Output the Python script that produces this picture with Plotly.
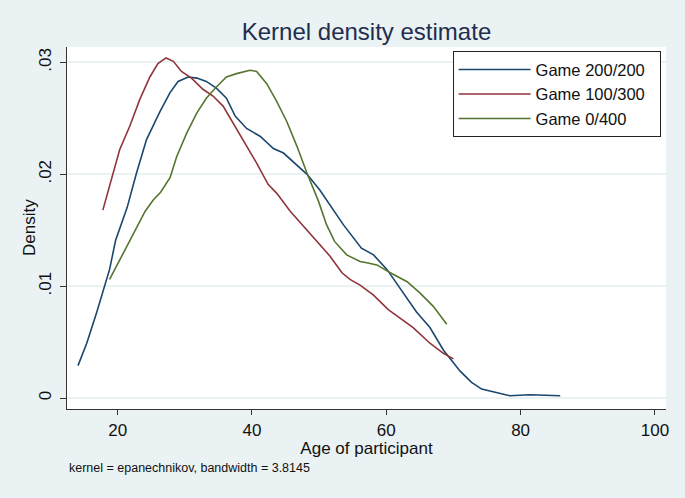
import plotly.graph_objects as go

# Game 200/200
age_a = [14.1, 15.4, 16.9, 18.8, 19.7, 21.4, 22.8, 24.3, 26.3, 27.8, 29.0, 30.5, 31.8, 33.2, 34.7,
         36.2, 37.5, 39.2, 41.2, 43.2, 44.7, 46.2, 48.2, 50.1, 51.6, 53.6, 56.3, 58.1, 60.1, 62.1,
         64.5, 66.5, 68.5, 71.0, 72.7, 74.2, 78.4, 81.4, 85.9]
dens_a = [0.0029, 0.0049, 0.0077, 0.0115, 0.0141, 0.0170, 0.0201, 0.0231, 0.0256, 0.0273, 0.0283,
          0.0287, 0.0286, 0.0283, 0.0277, 0.0268, 0.0252, 0.0241, 0.0234, 0.0223, 0.0219, 0.0211,
          0.0200, 0.0186, 0.0173, 0.0155, 0.0134, 0.0128, 0.0115, 0.0098, 0.0077, 0.0063, 0.0043,
          0.0024, 0.0014, 0.0008, 0.0002, 0.0003, 0.0002]

# Game 100/300
age_b = [17.8, 19.3, 20.3, 21.8, 23.3, 24.8, 26.0, 27.2, 28.3, 29.5, 31.0, 32.7, 34.2, 35.7, 37.2,
         38.7, 40.7, 42.4, 43.7, 45.7, 47.6, 49.6, 51.6, 53.4, 54.6, 56.1, 58.1, 60.3, 62.1, 64.0,
         66.5, 68.5, 70.0]
dens_b = [0.0168, 0.0201, 0.0222, 0.0243, 0.0267, 0.0287, 0.0299, 0.0304, 0.0301, 0.0292, 0.0286,
          0.0276, 0.0270, 0.0261, 0.0246, 0.0231, 0.0210, 0.0191, 0.0183, 0.0167, 0.0154, 0.0141,
          0.0127, 0.0112, 0.0106, 0.0101, 0.0092, 0.0079, 0.0071, 0.0063, 0.0049, 0.0040, 0.0035]

# Game 0/400
age_c = [18.8, 20.1, 21.6, 22.8, 24.1, 25.3, 26.4, 27.8, 28.8, 30.3, 31.8, 33.2, 34.7, 36.2, 37.7,
         39.7, 40.7, 42.2, 43.7, 45.2, 46.7, 48.2, 49.9, 51.1, 52.3, 54.1, 56.1, 57.1, 58.6, 60.6,
         63.1, 65.0, 67.0, 69.0]
dens_c = [0.0106, 0.0121, 0.0139, 0.0152, 0.0167, 0.0177, 0.0184, 0.0197, 0.0216, 0.0237, 0.0255,
          0.0268, 0.0278, 0.0287, 0.0290, 0.0293, 0.0292, 0.0281, 0.0265, 0.0247, 0.0225, 0.0201,
          0.0176, 0.0155, 0.0140, 0.0128, 0.0122, 0.0121, 0.0119, 0.0112, 0.0104, 0.0094, 0.0082,
          0.0066]

series_names = ["Game 200/200", "Game 100/300", "Game 0/400"]
series_colors = ["#1a476f", "#90353b", "#55752f"]

x_ticks = [20, 40, 60, 80, 100]
y_ticks = [0, 0.01, 0.02, 0.03]
y_tick_labels = ["0", ".01", ".02", ".03"]

FONT = "Liberation Sans, Arial, Helvetica, sans-serif"
BG = "#eaf2f3"

fig = go.Figure()
for xs, ys, name, col in zip([age_a, age_b, age_c], [dens_a, dens_b, dens_c], series_names, series_colors):
    fig.add_trace(go.Scatter(x=xs, y=ys, mode="lines", name=name + "\u00a0\u00a0",
                             line=dict(color=col, width=1.6)))

fig.update_layout(
    template="none",
    width=685, height=498,
    margin=dict(l=67, r=19, t=47, b=89, autoexpand=False),
    paper_bgcolor=BG, plot_bgcolor="white",
    font=dict(family=FONT, color="#111111", size=16),
    title=dict(text="Kernel density estimate", x=0.5, xref="paper", y=1 - 32 / 498,
               yanchor="middle", xanchor="center",
               font=dict(size=24, color="#1f2d4f", family=FONT)),
    showlegend=True,
    legend=dict(x=0.991, y=0.988, xanchor="right", yanchor="top",
                bgcolor="white", bordercolor="#222222", borderwidth=1,
                font=dict(size=16.5, family=FONT, color="#111111"),
                itemwidth=72, tracegroupgap=0),
    xaxis=dict(range=[12.46, 101.65], tickvals=x_ticks, showgrid=False, zeroline=False,
               automargin=False,
               showline=True, linecolor="#333333", linewidth=1.2,
               ticks="outside", ticklen=5, tickcolor="#333333",
               tickfont=dict(size=17), title=dict(text="Age of participant", font=dict(size=17), standoff=0)),
    yaxis=dict(range=[-0.00098, 0.03138], tickvals=y_ticks, ticktext=y_tick_labels, tickangle=-90,
               automargin=False,
               showgrid=True, gridcolor=BG, gridwidth=1.5, zeroline=False,
               showline=True, linecolor="#333333", linewidth=1.2,
               ticks="outside", ticklen=6, tickcolor="#333333", ticklabelstandoff=2,
               tickfont=dict(size=17)),
    annotations=[
        dict(text="Density", xref="paper", yref="paper", x=(29 - 67) / 599, y=(409 - 228) / 362,
             xanchor="center", yanchor="middle", textangle=-90, showarrow=False,
             font=dict(size=17, family=FONT, color="#111111")),
        dict(text="kernel = epanechnikov, bandwidth = 3.8145", xref="paper", yref="paper",
             x=0.0, y=-(468 - 409) / 362, xanchor="left", yanchor="middle", showarrow=False,
             font=dict(size=12.5, family=FONT, color="#111111")),
    ],
)

fig.write_html("out.html", config={"displayModeBar": False},
               post_script="document.body.style.margin='0';document.body.style.background='#eaf2f3';")
